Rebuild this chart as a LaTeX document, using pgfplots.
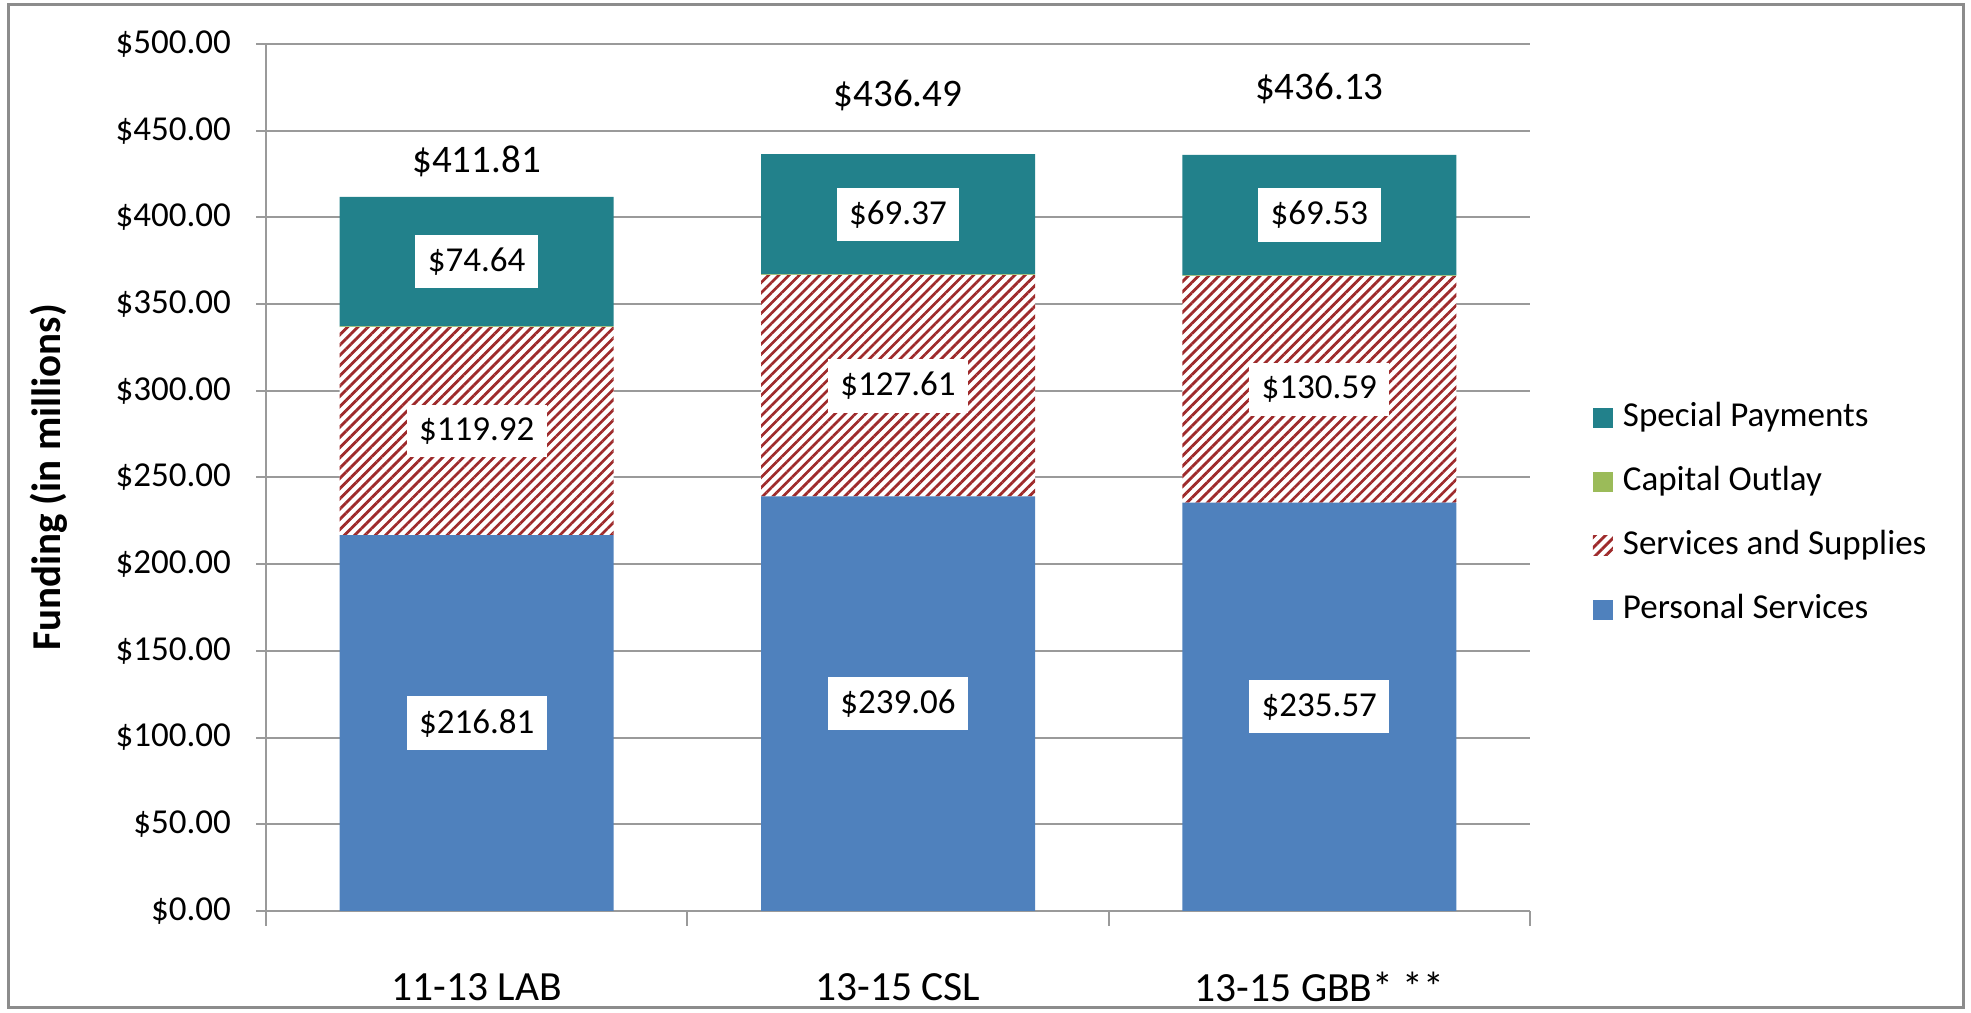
\documentclass[border=0pt]{standalone}
\usepackage{pgfplots}
\pgfplotsset{compat=1.18}
\usepackage{pgfplotstable}
\usepackage{fontspec}
\setmainfont{Carlito}
\usetikzlibrary{patterns.meta}

\definecolor{psblue}{HTML}{4F81BD}
\definecolor{spteal}{HTML}{22818B}
\definecolor{cogreen}{HTML}{9BBB59}
\definecolor{hatchred}{HTML}{9E2A2B}
\definecolor{gridgray}{HTML}{9A9A9A}

% budget by category, in millions
\pgfplotstableread{
x PS SS CO SP Tot
0 216.81 119.92 0.44 74.64 411.81
1 239.06 127.61 0.45 69.37 436.49
2 235.57 130.59 0.44 69.53 436.13
}\budget

\pgfplotsset{
  /pgf/number format/assume math mode=true,
  boxlabel/.style={
    nodes near coords={\$\pgfmathprintnumber[fixed,fixed zerofill,precision=2]{\pgfplotspointmeta}},
    point meta=explicit,
    every node near coord/.append style={
      anchor=center,
      fill=white, inner xsep=2.5pt, inner ysep=2.6pt,
      font=\fontsize{7}{8}\selectfont, text=black},
  },
  sqlegend/.style={legend image code/.code={\draw[##1,draw=none] (0pt,-2pt) rectangle (4pt,2pt);}},
  samebox/.style={
    at={(53.2pt,20.4pt)}, anchor=south west,
    scale only axis, width=252.8pt, height=173.4pt,
    xmin=-0.5, xmax=2.5, ymin=0, ymax=500,
  },
}

\begin{document}
\begin{tikzpicture}
\useasboundingbox (0,0) rectangle (394.2pt,202.6pt);
\draw[black!45, line width=0.6pt] (1.6pt,1pt) rectangle (392.6pt,201.6pt);
\begin{axis}[
    samebox,
    ybar stacked, bar width=54.8pt,
    xtick={0,1,2},
    xticklabels={11-13 LAB, 13-15 CSL, 13-15 GBB* **},
    minor xtick={-0.5,0.5,1.5,2.5},
    ytick={0,50,...,500},
    axis x line*=bottom, axis y line*=left,
    axis line style={gridgray, line width=0.4pt, -},
    tick align=outside,
    major x tick style={draw=none},
    minor x tick style={gridgray, line width=0.4pt},
    minor tick length=3pt,
    y tick style={gridgray, line width=0.4pt},
    major tick length=2pt,
    ymajorgrids, grid style={gridgray, line width=0.4pt},
    yticklabel={\$\pgfmathprintnumber[fixed,fixed zerofill,precision=2]{\tick}},
    tick label style={font=\fontsize{7}{8}\selectfont, text=black},
    yticklabel style={xshift=-1.5pt},
    xticklabel style={anchor=center, yshift=-13.2pt, font=\fontsize{8.3}{9}\selectfont},
    ylabel={\textbf{Funding (in millions)}},
    ylabel style={at={(axis description cs:-0.172,0.5)}, anchor=center, font=\fontsize{8.2}{9}\selectfont},
    reverse legend,
    legend cell align=left,
    legend style={at={(rel axis cs:1.049,0.458)}, anchor=west, draw=none, fill=none,
      inner sep=0pt, row sep=6.3pt, font=\fontsize{7}{8}\selectfont,
      nodes={inner xsep=2pt, inner ysep=0pt, text height=5pt, text depth=1.5pt}},
  ]
  \addplot[fill=psblue, draw=none, sqlegend, boxlabel] table[x=x, y=PS, meta=PS] {\budget};
  \addplot[draw=none, fill=white, sqlegend,
    postaction={pattern={Lines[angle=45, distance=1.45pt, line width=0.55pt]}, pattern color=hatchred},
    boxlabel] table[x=x, y=SS, meta=SS] {\budget};
  \addplot[fill=cogreen, draw=none, sqlegend] table[x=x, y=CO] {\budget};
  \addplot[fill=spteal, draw=none, sqlegend, boxlabel] table[x=x, y=SP, meta=SP] {\budget};
  \legend{Personal Services, Services and Supplies, Capital Outlay, Special Payments}
\end{axis}
% totals above the bars
\begin{axis}[samebox, hide axis]
  \addplot[draw=none, mark=none,
    nodes near coords={\$\pgfmathprintnumber[fixed,fixed zerofill,precision=2]{\pgfplotspointmeta}},
    point meta=explicit,
    visualization depends on={\coordindex \as \ci},
    every node near coord/.append style={anchor=center, inner sep=0pt,
      yshift={7.2pt + (\ci>0.5)*4.5pt + (\ci>1.5)*1.6pt},
      font=\fontsize{7.8}{9}\selectfont, text=black},
  ] table[x=x, y=Tot, meta=Tot] {\budget};
\end{axis}
\end{tikzpicture}
\end{document}
